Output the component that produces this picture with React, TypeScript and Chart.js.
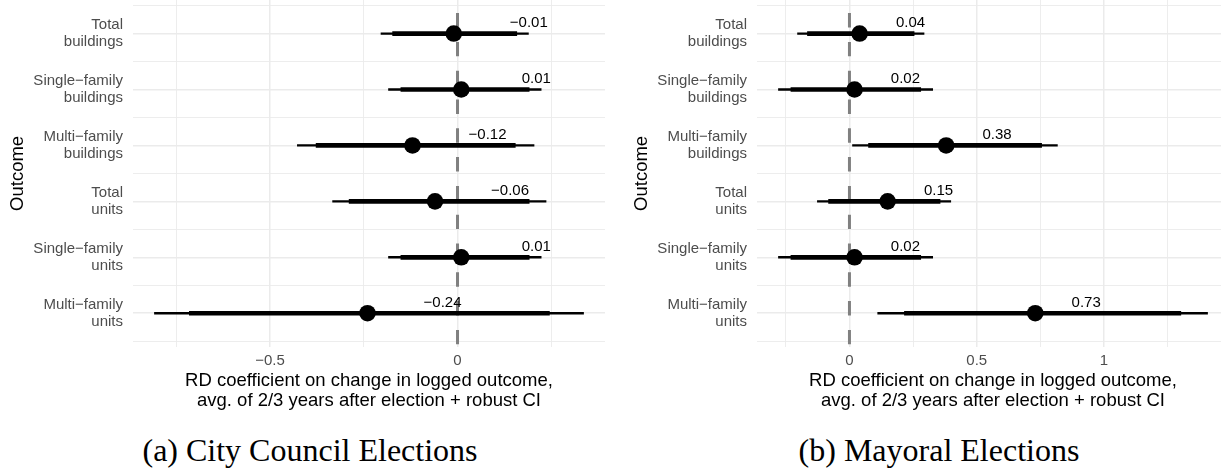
import React, { useEffect, useRef } from "react";
import { Chart, registerables, ScatterController } from "chart.js";

Chart.register(...registerables);
Chart.defaults.font.family = "'Liberation Sans', Arial, Helvetica, sans-serif";

// Point markers that do not reserve extra padding around the plot area
class DotController extends (ScatterController as any) {
  static id = "dot";
  getMaxOverflow() {
    return 0;
  }
}
Chart.register(DotController as any);

// Outcome rows, top to bottom
const outcomes: string[][] = [
  ["Total", "buildings"],
  ["Single−family", "buildings"],
  ["Multi−family", "buildings"],
  ["Total", "units"],
  ["Single−family", "units"],
  ["Multi−family", "units"],
];

// City council elections: RD estimates with inner (thick) and outer (thin) intervals
const councilEstimate = [-0.01, 0.01, -0.12, -0.06, 0.01, -0.24];
const councilInnerLow = [-0.173, -0.151, -0.377, -0.289, -0.151, -0.715];
const councilInnerHigh = [0.158, 0.191, 0.154, 0.191, 0.191, 0.245];
const councilOuterLow = [-0.204, -0.184, -0.427, -0.333, -0.184, -0.808];
const councilOuterHigh = [0.189, 0.223, 0.204, 0.236, 0.223, 0.336];
const councilTicks = [-0.75, -0.5, -0.25, 0, 0.25];
const councilTickLabels = ["", "−0.5", "", "0", ""];

// Mayoral elections
const mayorEstimate = [0.04, 0.02, 0.38, 0.15, 0.02, 0.73];
const mayorInnerLow = [-0.165, -0.23, 0.075, -0.082, -0.23, 0.216];
const mayorInnerHigh = [0.254, 0.28, 0.755, 0.356, 0.28, 1.302];
const mayorOuterLow = [-0.204, -0.279, 0.012, -0.126, -0.279, 0.111];
const mayorOuterHigh = [0.293, 0.327, 0.817, 0.398, 0.327, 1.407];
const mayorTicks = [-0.25, 0, 0.25, 0.5, 0.75, 1, 1.25];
const mayorTickLabels = ["", "0", "", "0.5", "", "1", ""];

const xTitle = [
  "RD coefficient on change in logged outcome,",
  "avg. of 2/3 years after election + robust CI",
];
const labelShift = 0.2; // value labels sit to the right of each estimate

interface Panel {
  estimate: number[];
  innerLow: number[];
  innerHigh: number[];
  outerLow: number[];
  outerHigh: number[];
  ticks: number[];
  tickLabels: string[];
  axisWidth: number;
  titleGap: number;
}

const fmt = (v: number) => (v < 0 ? "−" + Math.abs(v).toFixed(2) : v.toFixed(2));

const GRID = "#EBEBEB";
const AXIS_TEXT = "#4D4D4D";

function makeConfig(p: Panel): any {
  const n = outcomes.length;
  const lo = Math.min(...p.outerLow, ...p.estimate);
  const hi = Math.max(...p.outerHigh, ...p.estimate);
  const pad = (hi - lo) * 0.05;
  const rowGrid: number[] = [];
  for (let v = -0.5; v <= n - 0.5 + 1e-9; v += 0.5) rowGrid.push(v);

  const zeroLine = {
    id: "zeroLine",
    beforeDatasetsDraw(chart: any) {
      const { ctx, chartArea, scales } = chart;
      const x = scales.x.getPixelForValue(0);
      ctx.save();
      ctx.strokeStyle = "#808080";
      ctx.lineWidth = 3;
      ctx.setLineDash([14.4, 14.4]);
      ctx.lineDashOffset = 15.7;
      ctx.beginPath();
      ctx.moveTo(x, chartArea.top);
      ctx.lineTo(x, chartArea.bottom);
      ctx.stroke();
      ctx.restore();
    },
  };

  const valueLabels = {
    id: "valueLabels",
    afterDatasetsDraw(chart: any) {
      const { ctx, scales } = chart;
      ctx.save();
      ctx.fillStyle = "#000";
      ctx.font = "15px 'Liberation Sans', Arial, sans-serif";
      ctx.textAlign = "center";
      ctx.textBaseline = "middle";
      p.estimate.forEach((v, i) => {
        const x = scales.x.getPixelForValue(v + labelShift);
        const y = scales.y.getPixelForValue(i) - 10.5;
        ctx.fillText(fmt(v), x, y);
      });
      ctx.restore();
    },
  };

  return {
    type: "bar",
    data: {
      datasets: [
        {
          type: "dot",
          data: p.estimate.map((v, i) => ({ x: v, y: i })),
          pointRadius: 8.3,
          pointHoverRadius: 8.3,
          backgroundColor: "#000",
          borderWidth: 0,
          order: 0,
        },
        {
          type: "bar",
          data: p.innerLow.map((v, i) => ({ x: [v, p.innerHigh[i]], y: i })),
          barThickness: 4,
          backgroundColor: "#000",
          borderWidth: 0,
          grouped: false,
          order: 1,
        },
        {
          type: "bar",
          data: p.outerLow.map((v, i) => ({ x: [v, p.outerHigh[i]], y: i })),
          barThickness: 1.7,
          backgroundColor: "#000",
          borderWidth: 0,
          grouped: false,
          order: 2,
        },
      ],
    },
    options: {
      indexAxis: "y",
      responsive: false,
      animation: false,
      events: [],
      layout: { padding: 0 },
      plugins: { legend: { display: false }, tooltip: { enabled: false } },
      scales: {
        x: {
          type: "linear",
          min: lo - pad,
          max: hi + pad,
          offset: false,
          afterBuildTicks: (s: any) => {
            s.ticks = p.ticks.map((v) => ({ value: v }));
          },
          afterFit: (s: any) => {
            s.paddingLeft = 0;
            s.paddingRight = 0;
          },
          border: { display: false },
          grid: {
            color: GRID,
            offset: false,
            drawTicks: false,
            lineWidth: (c: any) => (p.tickLabels[c.index] ? 1.5 : 0.9),
          },
          ticks: {
            autoSkip: false,
            maxRotation: 0,
            padding: 6,
            color: AXIS_TEXT,
            font: { size: 15, lineHeight: 1.1 },
            callback: (_v: any, i: number) => p.tickLabels[i],
          },
          title: {
            display: true,
            text: xTitle,
            color: "#000",
            font: { size: 18.5, lineHeight: 1.1 },
            padding: { top: -5, bottom: 9 },
          },
        },
        y: {
          type: "linear",
          min: -0.6,
          max: n - 0.4,
          reverse: true,
          offset: false,
          afterBuildTicks: (s: any) => {
            s.ticks = rowGrid.map((v) => ({ value: v }));
          },
          afterFit: (s: any) => {
            s.width = p.axisWidth;
            s.paddingTop = 0;
            s.paddingBottom = 0;
          },
          border: { display: false },
          grid: {
            color: GRID,
            offset: false,
            drawTicks: false,
            lineWidth: (c: any) => (Number.isInteger(c.tick.value) ? 1.5 : 0.9),
          },
          ticks: {
            autoSkip: false,
            padding: 10,
            color: AXIS_TEXT,
            font: { size: 15, lineHeight: 1.1 },
            callback: (v: any) => (Number.isInteger(v) ? outcomes[v] : ""),
          },
          title: {
            display: true,
            text: "Outcome",
            color: "#000",
            font: { size: 18.5, lineHeight: 1.1 },
            padding: { top: p.titleGap, bottom: 0 },
          },
        },
      },
    },
    plugins: [zeroLine, valueLabels],
  };
}

const councilPanel: Panel = {
  estimate: councilEstimate,
  innerLow: councilInnerLow,
  innerHigh: councilInnerHigh,
  outerLow: councilOuterLow,
  outerHigh: councilOuterHigh,
  ticks: councilTicks,
  tickLabels: councilTickLabels,
  axisWidth: 133,
  titleGap: 8,
};

const mayorPanel: Panel = {
  estimate: mayorEstimate,
  innerLow: mayorInnerLow,
  innerHigh: mayorInnerHigh,
  outerLow: mayorOuterLow,
  outerHigh: mayorOuterHigh,
  ticks: mayorTicks,
  tickLabels: mayorTickLabels,
  axisWidth: 145,
  titleGap: 20,
};

function PanelChart({ panel, left, width }: { panel: Panel; left: number; width: number }) {
  const ref = useRef<HTMLCanvasElement | null>(null);
  useEffect(() => {
    if (!ref.current) return;
    const chart = new Chart(ref.current, makeConfig(panel));
    return () => chart.destroy();
  }, [panel]);
  return (
    <canvas
      ref={ref}
      width={width}
      height={420}
      style={{ position: "absolute", left, top: 0, width, height: 420 }}
    />
  );
}

const captionStyle = (left: number, width: number): React.CSSProperties => ({
  position: "absolute",
  left,
  width,
  top: 434,
  textAlign: "center",
  fontFamily: "'Liberation Serif', 'DejaVu Serif', serif",
  fontSize: 32,
  lineHeight: "32px",
  color: "#000",
  whiteSpace: "nowrap",
});

export default function App() {
  return (
    <div
      style={{
        position: "fixed",
        left: 0,
        top: 0,
        width: 1221,
        height: 469,
        overflow: "hidden",
        background: "#fff",
      }}
    >
      <PanelChart panel={councilPanel} left={0} width={605} />
      <PanelChart panel={mayorPanel} left={612} width={617} />
      <div style={captionStyle(0, 620)}>(a) City Council Elections</div>
      <div style={captionStyle(639, 600)}>(b) Mayoral Elections</div>
    </div>
  );
}
